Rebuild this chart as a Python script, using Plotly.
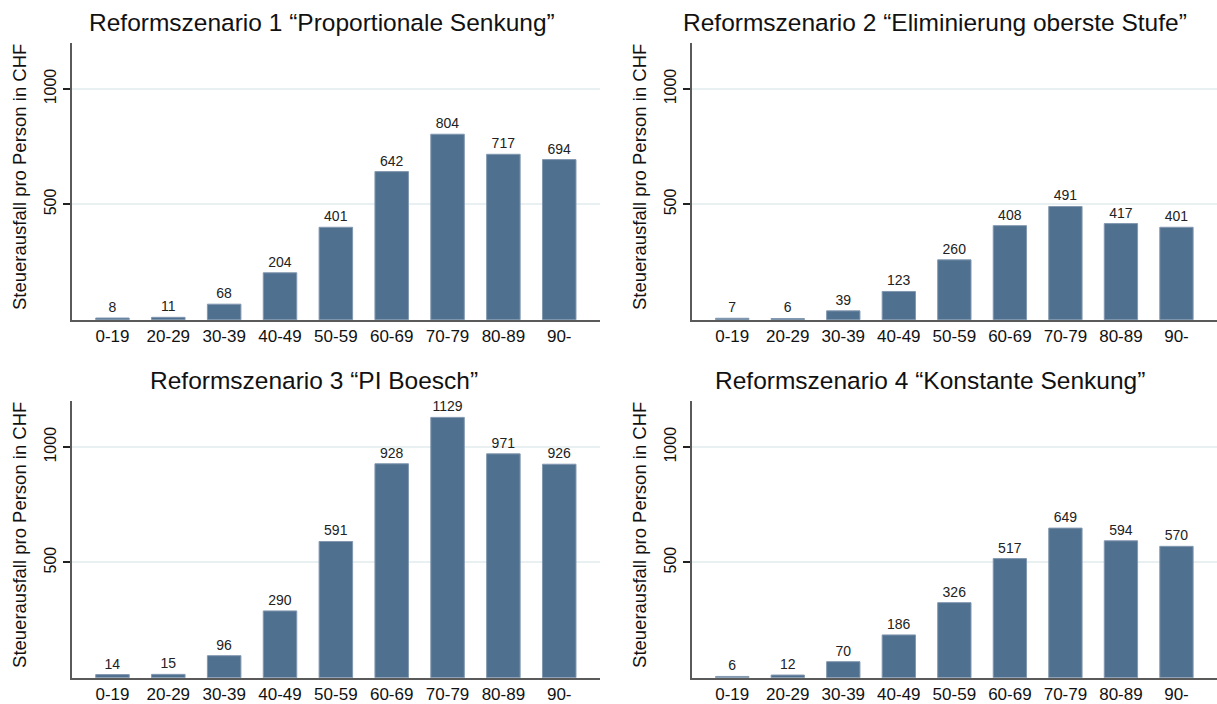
import plotly.graph_objects as go

categories = ["0-19", "20-29", "30-39", "40-49", "50-59", "60-69", "70-79", "80-89", "90-"]

titles = [
    "Reformszenario 1 \u201cProportionale Senkung\u201d",
    "Reformszenario 2 \u201cEliminierung oberste Stufe\u201d",
    "Reformszenario 3 \u201cPI Boesch\u201d",
    "Reformszenario 4 \u201cKonstante Senkung\u201d",
]

szenario1 = [8, 11, 68, 204, 401, 642, 804, 717, 694]
szenario2 = [7, 6, 39, 123, 260, 408, 491, 417, 401]
szenario3 = [14, 15, 96, 290, 591, 928, 1129, 971, 926]
szenario4 = [6, 12, 70, 186, 326, 517, 649, 594, 570]

y_title = "Steuerausfall pro Person in CHF"
y_ticks = [500, 1000]

W, H = 1217, 704
FONT = "Liberation Sans, Arial, Helvetica, sans-serif"
BAR = "#50708f"
BAR_LINE = "#8298b0"
AXIS = "#5a5a5a"
GRID = "#e9f0f2"

series = [szenario1, szenario2, szenario3, szenario4]

# panel geometry in pixels
x_dom_left = [71.7 / W, 600 / W]
x_dom_right = [691.7 / W, 1.0]
y_dom_top = [1 - 321.7 / H, 1 - 43 / H]
y_dom_bot = [1 - 681.7 / H, 1 - 403.3 / H]

fig = go.Figure()
layout = {}
for i, vals in enumerate(series):
    n = i + 1
    xa = "x" if n == 1 else f"x{n}"
    ya = "y" if n == 1 else f"y{n}"
    fig.add_trace(go.Bar(
        x=categories, y=vals, xaxis=xa, yaxis=ya,
        width=0.6,
        marker=dict(color=BAR, line=dict(color=BAR_LINE, width=1)),
        text=[str(v) for v in vals], textposition="outside",
        textfont=dict(size=14, color="#222222", family=FONT),
        cliponaxis=False, showlegend=False, hoverinfo="skip",
    ))
    xdom = x_dom_left if n in (1, 3) else x_dom_right
    ydom = y_dom_top if n in (1, 2) else y_dom_bot
    xkey = "xaxis" if n == 1 else f"xaxis{n}"
    ykey = "yaxis" if n == 1 else f"yaxis{n}"
    layout[xkey] = dict(
        domain=xdom, anchor=ya, type="category", range=[-0.73, 8.73],
        showline=True, linecolor=AXIS, linewidth=2, ticks="",
        showgrid=False, zeroline=False,
        tickfont=dict(size=17, color="#111111", family=FONT),
    )
    layout[ykey] = dict(
        domain=ydom, anchor=xa, range=[0, 1200],
        tickvals=y_ticks, ticktext=[str(t) for t in y_ticks],
        tickangle=-90, ticks="outside", ticklen=7, tickwidth=1.5, tickcolor="#222222",
        showline=True, linecolor=AXIS, linewidth=2,
        showgrid=True, gridcolor=GRID, gridwidth=1.5, zeroline=False,
        tickfont=dict(size=16, color="#111111", family=FONT),
    )

annotations = []
title_x = [322 / W, 935 / W, 314 / W, 930 / W]
title_y = [1 - 23 / H, 1 - 23 / H, 1 - 383 / H, 1 - 383 / H]
for i, t in enumerate(titles):
    annotations.append(dict(
        text=t, x=title_x[i], y=title_y[i], xref="paper", yref="paper",
        xanchor="center", yanchor="middle", showarrow=False,
        font=dict(size=24.5, color="#111111", family=FONT),
    ))
ytitle_x = [20 / W, 640 / W, 20 / W, 640 / W]
ytitle_y = [1 - 178 / H, 1 - 178 / H, 1 - 538 / H, 1 - 538 / H]
for i in range(4):
    annotations.append(dict(
        text=y_title, x=ytitle_x[i], y=ytitle_y[i], xref="paper", yref="paper",
        xanchor="center", yanchor="middle", showarrow=False, textangle=-90,
        font=dict(size=18.5, color="#111111", family=FONT),
    ))

fig.update_layout(
    width=W, height=H,
    margin=dict(l=0, r=0, t=0, b=0),
    paper_bgcolor="white", plot_bgcolor="white",
    font=dict(family=FONT, color="#111111"),
    annotations=annotations,
    **layout,
)

fig.write_html(
    "out.html",
    config={"displayModeBar": False},
    post_script="document.body.style.margin='0';document.body.style.overflow='hidden';",
)
